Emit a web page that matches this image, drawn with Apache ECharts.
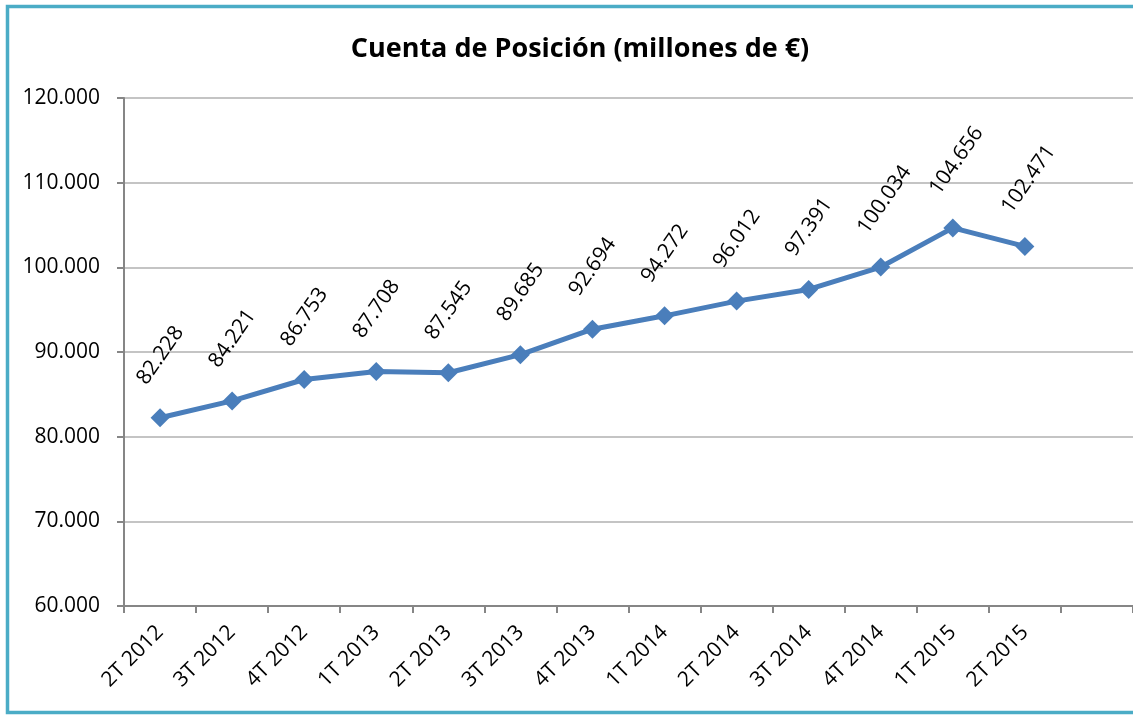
<!DOCTYPE html>
<html><head><meta charset="utf-8">
<script src="https://cdn.jsdelivr.net/npm/echarts@6/dist/echarts.min.js"></script>
<style>html,body{margin:0;padding:0;background:#fff}#c{width:1133px;height:715px}</style>
</head><body><div id="c"></div>
<script>
const titleText = 'Cuenta de Posición (millones de €)';
const categories = ['2T 2012','3T 2012','4T 2012','1T 2013','2T 2013','3T 2013','4T 2013','1T 2014','2T 2014','3T 2014','4T 2014','1T 2015','2T 2015',''];
const values = [82228, 84221, 86753, 87708, 87545, 89685, 92694, 94272, 96012, 97391, 100034, 104656, 102471];
const yMin = 60000, yMax = 120000, yStep = 10000;

function fmt(v){ return String(v).replace(/\B(?=(\d{3})+(?!\d))/g, '.'); }

const FONT = '"Open Sans", sans-serif';
const chart = echarts.init(document.getElementById('c'), null, {renderer:'canvas'});
chart.setOption({
  animation: false,
  backgroundColor: '#fff',
  graphic: [{
    type: 'rect', z: 100,
    shape: {x: 7.5, y: 6.5, width: 1140, height: 706},
    style: {fill: 'none', stroke: '#4bacc6', lineWidth: 3.5}
  }],
  title: {
    text: titleText, left: 575, top: 31, textAlign: 'center',
    textStyle: {fontFamily: FONT, fontSize: 27, fontWeight: 'bold', color: '#000'}
  },
  grid: {left: 124, right: -4, top: 98, bottom: 109, containLabel: false},
  xAxis: {
    type: 'category', data: categories, boundaryGap: true,
    axisLine: {lineStyle: {color: '#868686', width: 2}},
    axisTick: {show: true, interval: 0, length: 7, lineStyle: {color: '#868686', width: 2}},
    axisLabel: {interval: 0, rotate: 45, margin: 23, fontFamily: FONT, fontSize: 21, color: '#000'},
    splitLine: {show: false}
  },
  yAxis: {
    type: 'value', min: yMin, max: yMax, interval: yStep,
    axisLine: {show: true, lineStyle: {color: '#868686', width: 2}},
    axisTick: {show: true, length: 7, lineStyle: {color: '#868686', width: 2}},
    axisLabel: {margin: 24, fontFamily: FONT, fontSize: 21, color: '#000', formatter: v => fmt(v)},
    splitLine: {show: true, lineStyle: {color: '#c4c4c4', width: 2}}
  },
  series: [{
    type: 'line', data: values,
    lineStyle: {color: '#4a7ebb', width: 5},
    itemStyle: {color: '#4a7ebb'},
    symbol: 'diamond', symbolSize: 19,
    label: {
      show: true, position: [-9, -26], rotate: 55,
      align: 'left', verticalAlign: 'middle',
      fontFamily: FONT, fontSize: 21, color: '#000',
      formatter: p => fmt(p.value)
    }
  }]
});
</script></body></html>
